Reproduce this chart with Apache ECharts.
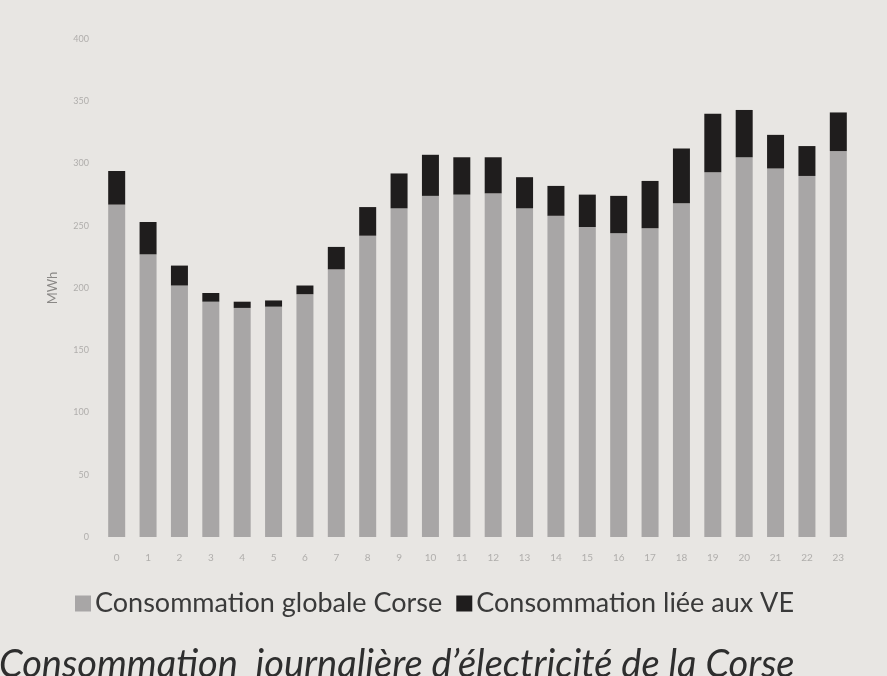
<!DOCTYPE html>
<html>
<head>
<meta charset="utf-8">
<script src="https://cdn.jsdelivr.net/npm/echarts@6/dist/echarts.min.js"></script>
<style>
  html, body { margin: 0; padding: 0; background: #e8e6e3; }
  #chart { width: 887px; height: 676px; }
</style>
</head>
<body>
<div id="chart"></div>
<script>
// Heures de la journée
const hours = ['0','1','2','3','4','5','6','7','8','9','10','11','12','13','14','15','16','17','18','19','20','21','22','23'];
// Consommation globale Corse (MWh)
const globalCorse = [267, 227, 202, 189, 184, 185, 195, 215, 242, 264, 274, 275, 276, 264, 258, 249, 244, 248, 268, 293, 305, 296, 290, 310];
// Consommation liée aux véhicules électriques (MWh)
const liéeVE = [27, 26, 16, 7, 5, 5, 7, 18, 23, 28, 33, 30, 29, 25, 24, 26, 30, 38, 44, 47, 38, 27, 24, 31];
// Graduations de l'axe vertical
const yMin = 0, yMax = 400, yStep = 50;

const chart = echarts.init(document.getElementById('chart'));
chart.setOption({
  backgroundColor: '#e8e6e3',
  animation: false,
  title: {
    text: 'Consommation  journalière d\u2019électricité de la Corse',
    left: -6,
    top: 641,
    textStyle: {
      fontFamily: 'Lato',
      fontStyle: 'italic',
      fontWeight: 'normal',
      fontSize: 38,
      color: '#2e2e2e'
    }
  },
  legend: {
    left: 70,
    top: 585,
    icon: 'rect',
    itemWidth: 16,
    itemHeight: 16,
    itemGap: 14,
    itemStyle: { borderWidth: 0 },
    textStyle: { fontFamily: 'Lato', fontSize: 27, color: '#3a3a3a', padding: [0, 0, 0, -1] },
    data: ['Consommation globale Corse', 'Consommation liée aux VE']
  },
  grid: { left: 101, right: 33, top: 39, bottom: 139 },
  xAxis: {
    type: 'category',
    data: hours,
    axisLine: { show: false },
    axisTick: { show: false },
    axisLabel: { color: '#b0aeac', fontFamily: 'Lato', fontSize: 10, margin: 16 }
  },
  yAxis: {
    type: 'value',
    min: yMin,
    max: yMax,
    interval: yStep,
    name: 'MWh',
    nameLocation: 'middle',
    nameGap: 42,
    nameTextStyle: { color: '#8a8886', fontFamily: 'Lato', fontSize: 13 },
    axisLine: { show: false },
    axisTick: { show: false },
    splitLine: { show: false },
    axisLabel: { color: '#b0aeac', fontFamily: 'Lato', fontSize: 9, margin: 12 }
  },
  series: [
    {
      name: 'Consommation globale Corse',
      type: 'bar',
      stack: 'total',
      data: globalCorse,
      barWidth: 17,
      itemStyle: { color: '#a8a6a6' }
    },
    {
      name: 'Consommation liée aux VE',
      type: 'bar',
      stack: 'total',
      data: liéeVE,
      barWidth: 17,
      itemStyle: { color: '#1f1d1d' }
    }
  ]
});
</script>
</body>
</html>
